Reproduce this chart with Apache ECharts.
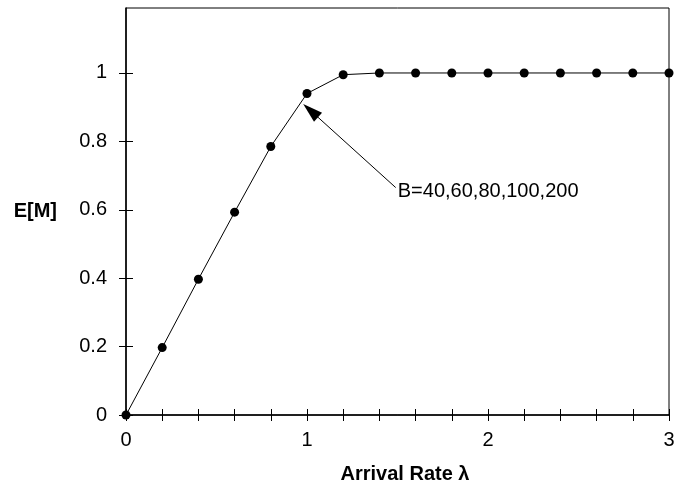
<!DOCTYPE html>
<html>
<head>
<meta charset="utf-8">
<script src="https://cdn.jsdelivr.net/npm/echarts@6/dist/echarts.min.js"></script>
<style>
  html, body { margin: 0; padding: 0; background: #fff; }
  #chart { width: 688px; height: 487px; }
</style>
</head>
<body>
<div id="chart"></div>
<script>
// ---- Data ----
const arrivalRates = [0, 0.2, 0.4, 0.6, 0.8, 1.0, 1.2, 1.4, 1.6, 1.8, 2.0, 2.2, 2.4, 2.6, 2.8, 3.0];
const expectedM   = [0, 0.197, 0.397, 0.593, 0.785, 0.94, 0.995, 1.0, 1.0, 1.0, 1.0, 1.0, 1.0, 1.0, 1.0, 1.0];
const xTickValues = [0, 0.2, 0.4, 0.6, 0.8, 1.0, 1.2, 1.4, 1.6, 1.8, 2.0, 2.2, 2.4, 2.6, 2.8, 3.0];
const xLabelValues = [0, 1, 2, 3];
const yTickValues = [0, 0.2, 0.4, 0.6, 0.8, 1];
const xAxisTitle = 'Arrival Rate \u03bb';
const yAxisTitle = 'E[M]';
const annotationText = 'B=40,60,80,100,200';

const FONT = 'Liberation Sans, Arial, Helvetica, sans-serif';
const X_MIN = 0, X_MAX = 3, Y_MIN = 0, Y_MAX = 1.19;
const GRID = { left: 126, right: 19, top: 8, bottom: 72 };

const chart = echarts.init(document.getElementById('chart'), null, { renderer: 'canvas' });

const fmt = v => {
  if (Math.abs(v) < 1e-9) return '0';
  return String(Math.round(v * 10) / 10);
};

const tickOnlyAxis = (ticks, len, min, max) => ({
  type: 'value', min: min, max: max, gridIndex: 1,
  axisLine: { show: false },
  axisTick: { show: true, inside: true, length: len, customValues: ticks, lineStyle: { color: '#000', width: 1 } },
  axisLabel: { show: false },
  splitLine: { show: false }
});

const option = {
  animation: false,
  backgroundColor: '#ffffff',
  grid: [
    {
      left: GRID.left, right: GRID.right, top: GRID.top, bottom: GRID.bottom,
      show: true, borderColor: '#000', borderWidth: 1, backgroundColor: 'transparent',
      containLabel: false, outerBoundsMode: 'none'
    },
    {
      left: GRID.left, right: GRID.right, top: GRID.top, bottom: GRID.bottom,
      show: false, containLabel: false, outerBoundsMode: 'none'
    }
  ],
  xAxis: [
    {
      type: 'value', min: X_MIN, max: X_MAX, gridIndex: 0, position: 'bottom',
      axisLine: { show: true, lineStyle: { color: '#000', width: 1.5 } },
      axisTick: { show: true, inside: false, length: 6, customValues: xTickValues, lineStyle: { color: '#000', width: 1 } },
      axisLabel: { show: true, customValues: xLabelValues, margin: 15, color: '#000', fontFamily: FONT, fontSize: 20, formatter: fmt },
      splitLine: { show: false },
      name: xAxisTitle, nameLocation: 'middle', nameGap: 49,
      nameTextStyle: { color: '#000', fontFamily: FONT, fontSize: 20, fontWeight: 'bold', padding: [0, 0, 0, 15] }
    },
    Object.assign(tickOnlyAxis(xTickValues, 6, X_MIN, X_MAX), { position: 'bottom' })
  ],
  yAxis: [
    {
      type: 'value', min: Y_MIN, max: Y_MAX, gridIndex: 0, position: 'left',
      axisLine: { show: true, lineStyle: { color: '#000', width: 1.5 } },
      axisTick: { show: true, inside: false, length: 7, customValues: yTickValues, lineStyle: { color: '#000', width: 1 } },
      axisLabel: { show: true, customValues: yTickValues, margin: 19, color: '#000', fontFamily: FONT, fontSize: 20, formatter: fmt },
      splitLine: { show: false },
      name: yAxisTitle, nameLocation: 'middle', nameRotate: 0, nameGap: 69,
      nameTextStyle: { color: '#000', fontFamily: FONT, fontSize: 20, fontWeight: 'bold', padding: [0, 0, 12, 0] }
    },
    Object.assign(tickOnlyAxis(yTickValues, 7, Y_MIN, Y_MAX), { position: 'left' })
  ],
  series: [
    {
      type: 'line',
      xAxisIndex: 0, yAxisIndex: 0,
      data: arrivalRates.map((x, i) => [x, expectedM[i]]),
      symbol: 'circle', symbolSize: 9,
      itemStyle: { color: '#000' },
      lineStyle: { color: '#000', width: 1 },
      clip: false,
      markLine: {
        silent: true,
        symbol: ['none', 'none'],
        lineStyle: { color: '#000', width: 1, type: 'solid' },
        label: { show: false },
        emphasis: { disabled: true },
        data: [[
          { coord: [1.49, 0.665], symbol: 'none' },
          { coord: [1.02, 0.89], symbol: 'path://M0,0L6,20L-6,20Z', symbolSize: [12, 20] }
        ]]
      },
      markPoint: {
        silent: true,
        symbol: 'circle', symbolSize: 0,
        label: { show: true, position: 'right', distance: 1, color: '#000', fontFamily: FONT, fontSize: 20, formatter: annotationText },
        data: [{ coord: [1.496, 0.653] }]
      }
    },
    {
      // invisible helper series so the inner tick axes (grid 1) are laid out
      type: 'line', xAxisIndex: 1, yAxisIndex: 1,
      data: [], silent: true, showSymbol: false
    }
  ]
};

chart.setOption(option);
</script>
</body>
</html>
